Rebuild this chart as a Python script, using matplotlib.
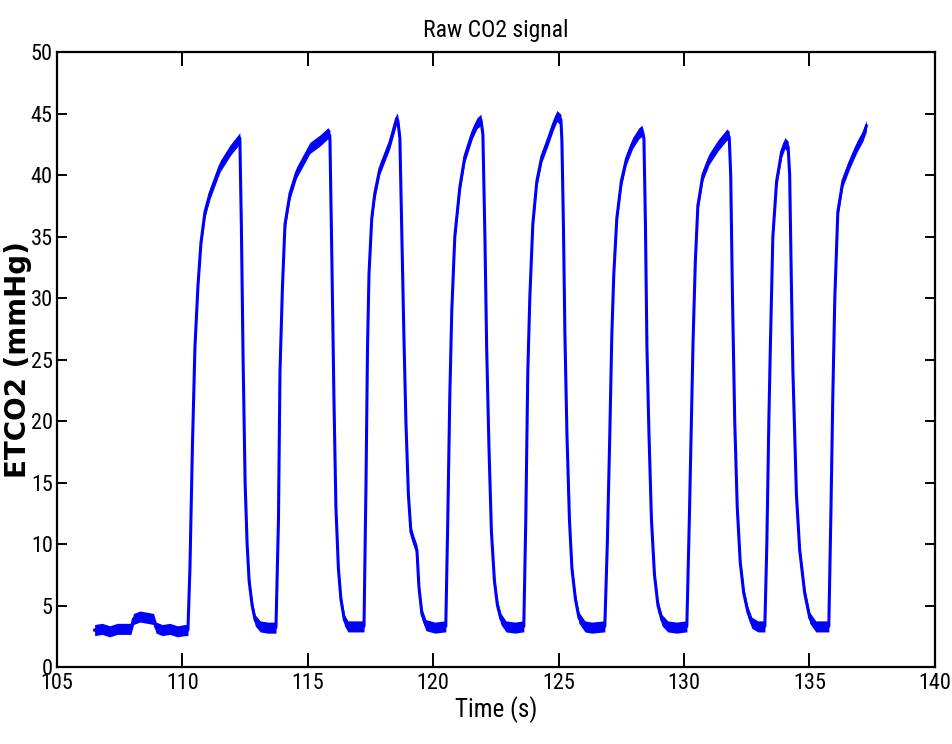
import numpy as np
import matplotlib
matplotlib.use("Agg")
import matplotlib.pyplot as plt
from matplotlib import font_manager

# baseline before the first breath (s, mmHg)
base_t = [106.5, 106.8, 107.1, 107.4, 107.7, 107.95, 108.05, 108.3, 108.6, 108.85, 108.95, 109.2, 109.5, 109.8, 110.1, 110.22]
base_v = [3.0, 3.1, 2.9, 3.1, 3.1, 3.1, 3.9, 4.1, 4.0, 3.9, 3.2, 3.0, 3.1, 2.9, 3.0, 3.0]

# one array pair per breath
b1_t = [110.30, 110.40, 110.50, 110.62, 110.74, 110.90, 111.10, 111.50, 111.90, 112.21, 112.29, 112.35, 112.42, 112.50, 112.58, 112.66, 112.78, 112.90, 113.10, 113.40, 113.69]
b1_v = [8, 18, 26, 31, 34.5, 37, 38.5, 40.7, 42.0, 42.8, 43.0, 36, 25, 15, 10, 7, 5, 3.8, 3.3, 3.2, 3.2]

b2_t = [113.73, 113.83, 113.89, 113.99, 114.09, 114.29, 114.55, 115.08, 115.48, 115.80, 115.88, 115.96, 116.04, 116.12, 116.22, 116.32, 116.46, 116.60, 116.88, 117.20]
b2_v = [3.2, 12, 24, 31, 36, 38.5, 40.2, 42.2, 42.8, 43.4, 43.2, 33, 22, 13, 8, 5.5, 3.8, 3.3, 3.3, 3.3]

b3_t = [117.24, 117.32, 117.38, 117.44, 117.55, 117.67, 117.87, 118.27, 118.54, 118.59, 118.67, 118.75, 118.83, 118.91, 119.01, 119.11, 119.23, 119.35, 119.43, 119.55, 119.71, 120.07, 120.46]
b3_v = [3.3, 15, 26, 32, 36.5, 38.5, 40.5, 42.6, 44.6, 44.4, 43, 35, 27, 20, 14, 11, 10.2, 9.5, 6.5, 4.3, 3.4, 3.2, 3.3]

b4_t = [120.50, 120.58, 120.66, 120.74, 120.86, 121.06, 121.26, 121.56, 121.74, 121.90, 121.98, 122.06, 122.13, 122.22, 122.32, 122.44, 122.56, 122.70, 122.90, 123.26, 123.57]
b4_v = [3.3, 12, 22, 29, 35, 39, 41.5, 43.4, 44.2, 44.5, 43.3, 35, 26, 18, 11, 7, 5, 3.9, 3.3, 3.2, 3.3]

b5_t = [123.61, 123.69, 123.77, 123.85, 123.97, 124.13, 124.33, 124.57, 124.77, 124.93, 125.09, 125.13, 125.19, 125.25, 125.33, 125.43, 125.53, 125.67, 125.81, 126.05, 126.32, 126.80]
b5_v = [3.3, 12, 24, 30, 36, 39.5, 41.5, 42.8, 44.0, 44.8, 44.5, 42.8, 36, 27, 19, 12, 8, 5.5, 4, 3.3, 3.2, 3.3]

b6_t = [126.84, 126.94, 127.04, 127.12, 127.20, 127.32, 127.50, 127.70, 127.95, 128.20, 128.32, 128.40, 128.46, 128.52, 128.60, 128.70, 128.82, 128.96, 129.12, 129.35, 129.70, 130.07]
b6_v = [3.3, 10, 19, 27, 32, 36.5, 39.5, 41.3, 42.6, 43.4, 43.6, 43.0, 36, 26, 19, 12, 7.5, 5, 3.8, 3.3, 3.2, 3.3]

b7_t = [130.11, 130.21, 130.29, 130.36, 130.45, 130.55, 130.75, 131.00, 131.35, 131.71, 131.80, 131.86, 131.93, 132.02, 132.12, 132.24, 132.38, 132.54, 132.70, 132.94, 133.18]
b7_v = [3.3, 12, 20, 26.6, 33, 37.5, 40.0, 41.3, 42.4, 43.3, 43.1, 40, 30, 20, 13, 8.5, 6, 4.5, 3.6, 3.3, 3.3]

b8_t = [133.22, 133.30, 133.38, 133.44, 133.54, 133.69, 133.89, 134.02, 134.15, 134.21, 134.28, 134.34, 134.48, 134.61, 134.81, 135.01, 135.25, 135.73]
b8_v = [3.3, 10, 20, 26, 35, 39.5, 41.9, 42.6, 42.3, 40, 31, 24, 14, 9.5, 6, 4, 3.3, 3.3]

b9_t = [135.77, 135.85, 135.93, 136.01, 136.13, 136.33, 136.61, 136.89, 137.13, 137.27]
b9_v = [3.3, 12, 22, 30, 37, 39.5, 41.0, 42.3, 43.2, 44.0]

t = np.concatenate([base_t, b1_t, b2_t, b3_t, b4_t, b5_t, b6_t, b7_t, b8_t, b9_t])
v = np.concatenate([base_v, b1_v, b2_v, b3_v, b4_v, b5_v, b6_v, b7_v, b8_v, b9_v])

# pick a narrow face if one is around, else Arial-like Liberation Sans
names = {f.name for f in font_manager.fontManager.ttflist}
narrow = 'Liberation Sans'
for cand in ['Liberation Sans Narrow', 'Roboto Condensed', 'Open Sans Condensed', 'Arial Narrow']:
    if cand in names:
        narrow = cand
        break

fig = plt.figure(figsize=(9.53, 7.44), dpi=100)
ax = fig.add_axes([0.0598, 0.1035, 0.9212, 0.8265])
# signal noise shows as a vertical band around the trace
ax.fill_between(t, v - 0.45, v + 0.45, color='#0000ff', lw=0)
ax.plot(t, v, color='#0000ff', lw=2.2)

ax.set_xlim(105, 140)
ax.set_ylim(0, 50)
ax.set_xticks(np.arange(105, 141, 5))
ax.set_yticks(np.arange(0, 51, 5))
ax.tick_params(direction='in', top=True, right=True, width=1.4, labelsize=16, colors='black')
ax.tick_params(axis='x', length=10, pad=4)
ax.tick_params(axis='y', length=7, pad=3)
for lab in ax.get_xticklabels() + ax.get_yticklabels():
    lab.set_family([narrow, 'DejaVu Sans'])
for s in ax.spines.values():
    s.set_linewidth(1.6)

ax.set_title('Raw CO2 signal', family=[narrow, 'DejaVu Sans'], fontsize=17, pad=11)
ax.set_xlabel('Time (s)', family=[narrow, 'DejaVu Sans'], fontsize=18, labelpad=2)
ax.set_ylabel('ETCO2 (mmHg)', family='DejaVu Sans', fontweight='bold', fontsize=20)
ax.yaxis.set_label_coords(-0.029, 0.5)

fig.savefig('out.png', dpi=100)
